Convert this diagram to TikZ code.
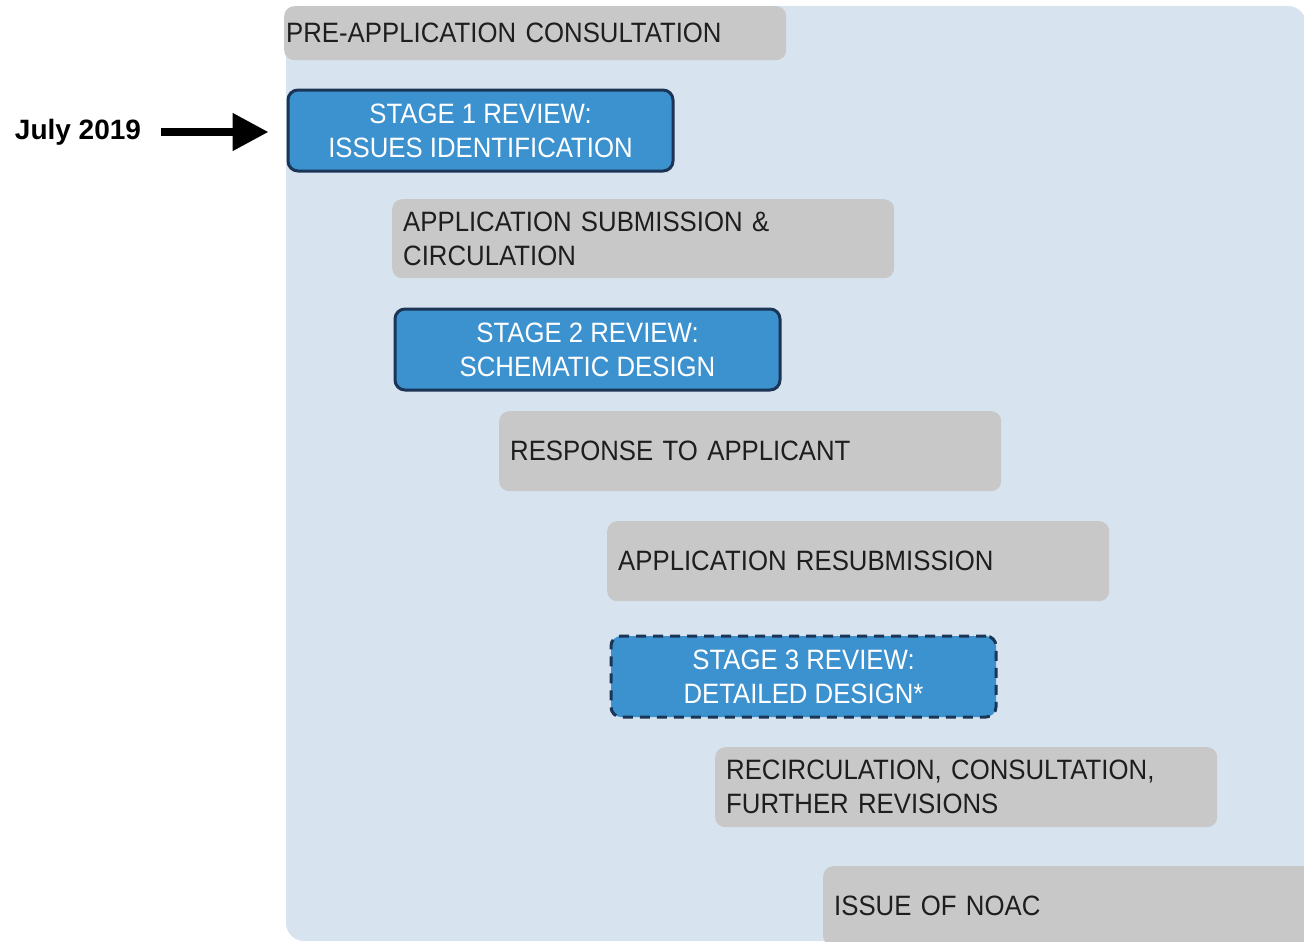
\documentclass[tikz,border=0pt]{standalone}
\usepackage{fontspec}
\setmainfont[FakeStretch=0.92]{Liberation Sans}
\newfontfamily\datefont{Liberation Sans}
\usepackage{xcolor}
\usepackage{tikz}
\usetikzlibrary{
  positioning,
  arrows.meta
}
\definecolor{PanelBlue}{RGB}{215,228,239}
\definecolor{StepGray}{RGB}{200,200,200}
\definecolor{StageBlue}{RGB}{60,145,207}
\definecolor{StageEdge}{RGB}{27,53,86}
\definecolor{TextDark}{RGB}{30,30,30}

\begin{document}
\begin{tikzpicture}[x=1pt,y=-1pt,
  font=\fontsize{28pt}{34pt}\selectfont,
  stepbox/.style={fill=StepGray, rounded corners=10pt, anchor=north west,
    minimum height=80pt, text width=480pt, inner xsep=11pt, inner ysep=0pt,
    align=left, text=TextDark},
  stagebox/.style={fill=StageBlue, draw=StageEdge, line width=3pt,
    rounded corners=10pt, anchor=north west, minimum width=385pt,
    minimum height=81pt, inner sep=0pt, align=center, text=white}]
  \useasboundingbox (0,0) rectangle (1304,942);
  \clip (0,0) rectangle (1304,942);

  % ---------- panel ----------
  \fill[PanelBlue, rounded corners=18pt] (286,6) rectangle (1306,941);

  % ---------- steps ----------
  \node[stepbox, minimum height=54pt, inner xsep=2pt, text width=498pt]
    (preapp) at (284,6) {PRE-APPLICATION CONSULTATION};
  \node[stagebox] (stage1) at (286.5,88.5)
    {STAGE 1 REVIEW:\\ISSUES IDENTIFICATION};
  \node[stepbox, minimum height=79pt] (submit) at (392,199)
    {APPLICATION SUBMISSION \&\\CIRCULATION};
  \node[stagebox] (stage2) at (393.5,307.5)
    {STAGE 2 REVIEW:\\SCHEMATIC DESIGN};
  \node[stepbox] (response) at (499,411) {RESPONSE TO APPLICANT};
  \node[stepbox] (resubmit) at (607,521) {APPLICATION RESUBMISSION};
  \node[stagebox, dash pattern=on 10pt off 7pt] (stage3) at (609.5,634.5)
    {STAGE 3 REVIEW:\\DETAILED DESIGN*};
  \node[stepbox] (recirc) at (715,747)
    {RECIRCULATION, CONSULTATION,\\FURTHER REVISIONS};
  \node[stepbox] (noac) at (823,866) {ISSUE OF NOAC};

  % ---------- date marker ----------
  \node[font=\datefont\fontsize{28pt}{34pt}\selectfont\bfseries]
    (july) at (78,132) {July 2019};
  \draw[-{Triangle[width=36pt,length=36pt]}, line width=8pt,
    shorten <=16pt, shorten >=18pt]
    (july.east) -- (july.east -| stage1.west);
\end{tikzpicture}
\end{document}
